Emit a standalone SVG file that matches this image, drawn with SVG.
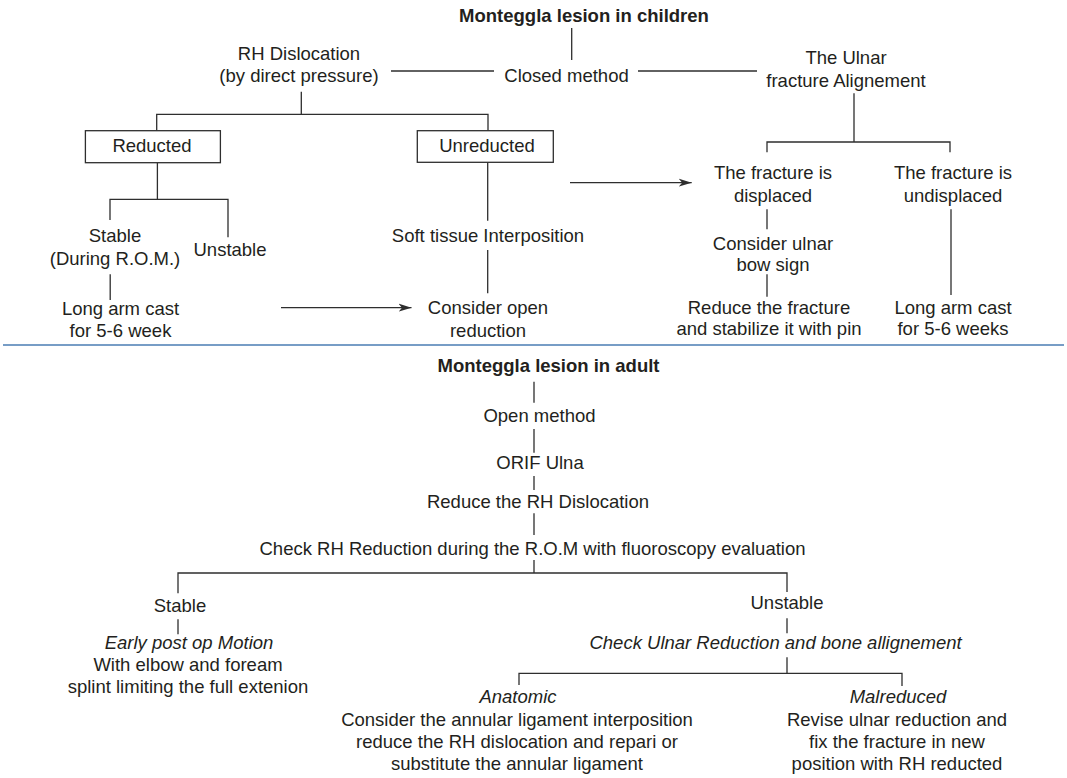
<svg xmlns="http://www.w3.org/2000/svg" width="1067" height="778" viewBox="0 0 1067 778">
  <style>
    text { font-family: "Liberation Sans", Arial, Helvetica, sans-serif; font-size: 18.5px; fill: #231f20; text-anchor: middle; }
    .b { font-weight: bold; }
    .i { font-style: italic; }
    .box { fill: #ffffff; stroke: #2e2e2e; stroke-width: 1.3; }
    .ln { fill: none; stroke: #2e2e2e; stroke-width: 1.3; }
    .sep { fill: none; stroke: #4a7db3; stroke-width: 1.6; }
  </style>
  <defs>
    <marker id="arrow" markerUnits="userSpaceOnUse" markerWidth="14" markerHeight="10" refX="13" refY="5" orient="auto">
      <path d="M0,1 L13,5 L0,9 L3.5,5 Z" fill="#2e2e2e"/>
    </marker>
  </defs>

  <rect width="1067" height="778" fill="#ffffff"/>

  <!-- connectors -->
  <g id="connectors">
    <!-- children: closed method -->
    <path class="ln" d="M571.7,28 V60"/>
    <path class="ln" d="M391,71 H494"/>
    <path class="ln" d="M638,71 H757"/>
    <path class="ln" d="M301.3,91.7 V114.3 M156.7,130.7 V114.3 H488 V130.7"/>
    <path class="ln" d="M157.4,162.7 V199.3 M110,220 V199.3 H228 V237.3"/>
    <path class="ln" d="M110.2,274.3 V300"/>
    <path class="ln" d="M487.7,162.3 V220.7 M487.7,250 V293.3"/>
    <path class="ln" d="M854,93.3 V142 M767,152.3 V142 H950 V152.3"/>
    <path class="ln" d="M767,209.3 V229.3 M767,274.3 V296.7"/>
    <path class="ln" d="M951,209.3 V295"/>
    <path class="ln" d="M281,307.7 H411.5" marker-end="url(#arrow)"/>
    <path class="ln" d="M570,182.7 H691.7" marker-end="url(#arrow)"/>
    <!-- adult: open method -->
    <path class="ln" d="M534,381.7 V402.7 M534,429 V452.7 M534,476 V490 M534,513.3 V535 M534,560 V573"/>
    <path class="ln" d="M178,593.3 V573 H787 V592"/>
    <path class="ln" d="M178,619.3 V634.3"/>
    <path class="ln" d="M787,618.3 V633.3 M787,657.3 V673.3"/>
    <path class="ln" d="M519,685 V673.3 H902 V686"/>
  </g>

  <!-- section divider -->
  <path class="sep" d="M3,345 H1064"/>

  <!-- children -->
  <g id="title-children"><text class="b" x="584" y="22">Monteggla lesion in children</text></g>
  <g id="closed-method"><text x="566.5" y="81.7">Closed method</text></g>
  <g id="rh-dislocation">
    <text x="299" y="60">RH Dislocation</text>
    <text x="299" y="81.7">(by direct pressure)</text>
  </g>
  <g id="ulnar-alignment">
    <text x="846" y="64">The Ulnar</text>
    <text x="846" y="87.3">fracture Alignement</text>
  </g>
  <g id="reducted">
    <rect class="box" x="85.4" y="130.7" width="135" height="32"/>
    <text x="152" y="152">Reducted</text>
  </g>
  <g id="unreducted">
    <rect class="box" x="417.3" y="130.7" width="136" height="31.6"/>
    <text x="487" y="152">Unreducted</text>
  </g>
  <g id="stable-child">
    <text x="115" y="241.7">Stable</text>
    <text x="115" y="265">(During R.O.M.)</text>
  </g>
  <g id="unstable-child"><text x="230" y="255.7">Unstable</text></g>
  <g id="cast-child">
    <text x="120.5" y="315">Long arm cast</text>
    <text x="120.5" y="336.7">for 5-6 week</text>
  </g>
  <g id="soft-tissue"><text x="488" y="242">Soft tissue Interposition</text></g>
  <g id="open-reduction">
    <text x="488" y="314">Consider open</text>
    <text x="488" y="336.7">reduction</text>
  </g>
  <g id="displaced">
    <text x="773" y="179.3">The fracture is</text>
    <text x="773" y="202">displaced</text>
  </g>
  <g id="bow-sign">
    <text x="773" y="250">Consider ulnar</text>
    <text x="773" y="271">bow sign</text>
  </g>
  <g id="pin">
    <text x="769" y="314">Reduce the fracture</text>
    <text x="769" y="335">and stabilize it with pin</text>
  </g>
  <g id="undisplaced">
    <text x="953" y="179.3">The fracture is</text>
    <text x="953" y="202">undisplaced</text>
  </g>
  <g id="cast-undisplaced">
    <text x="953" y="314">Long arm cast</text>
    <text x="953" y="335">for 5-6 weeks</text>
  </g>

  <!-- adult -->
  <g id="title-adult"><text class="b" x="548.5" y="371.7">Monteggla lesion in adult</text></g>
  <g id="open-method"><text x="539.5" y="421.7">Open method</text></g>
  <g id="orif"><text x="540" y="469">ORIF Ulna</text></g>
  <g id="reduce-rh"><text x="538" y="508">Reduce the RH Dislocation</text></g>
  <g id="check-rh"><text x="532.5" y="555">Check RH Reduction during the R.O.M with fluoroscopy evaluation</text></g>
  <g id="stable-adult"><text x="180" y="611.7">Stable</text></g>
  <g id="early-motion">
    <text class="i" x="189" y="649.3">Early post op Motion</text>
    <text x="188" y="671">With elbow and foream</text>
    <text x="188" y="693.3">splint limiting the full extenion</text>
  </g>
  <g id="unstable-adult"><text x="787" y="609.3">Unstable</text></g>
  <g id="check-ulnar"><text class="i" x="775.6" y="649.3">Check Ulnar Reduction and bone allignement</text></g>
  <g id="anatomic">
    <text class="i" x="518" y="703.3">Anatomic</text>
    <text x="517" y="726">Consider the annular ligament interposition</text>
    <text x="517" y="748.3">reduce the RH dislocation and repari or</text>
    <text x="517" y="770">substitute the annular ligament</text>
  </g>
  <g id="malreduced">
    <text class="i" x="898" y="703.3">Malreduced</text>
    <text x="897" y="726">Revise ulnar reduction and</text>
    <text x="897" y="748.3">fix the fracture in new</text>
    <text x="897" y="770">position with RH reducted</text>
  </g>
</svg>
